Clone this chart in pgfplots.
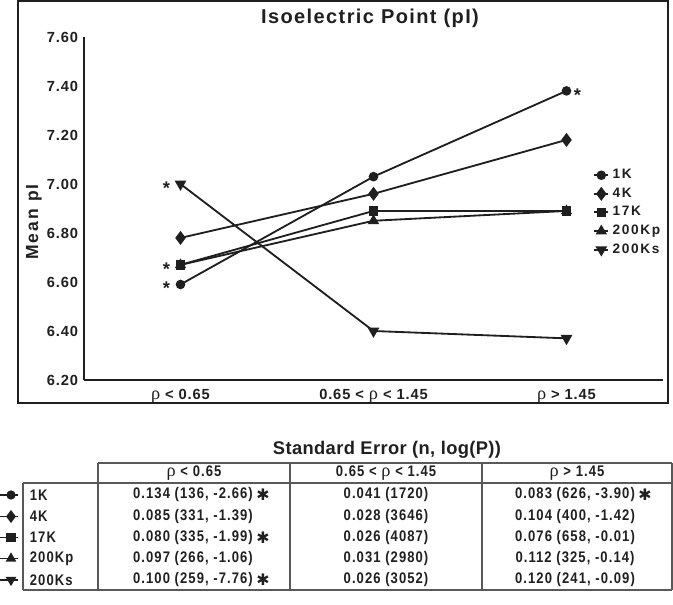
\documentclass[border=0pt]{standalone}
\usepackage{pgfplots}
\pgfplotsset{compat=1.18}
\usepackage{fontspec}
\setmainfont{Liberation Sans}
\newfontfamily\lsA[LetterSpace=6]{Liberation Sans}
\newfontfamily\lsT[LetterSpace=7]{Liberation Sans}
\newfontfamily\lsB[LetterSpace=12]{Liberation Sans}
\newfontfamily\lsY[LetterSpace=12]{Liberation Sans}
\newfontfamily\lsC[LetterSpace=2]{Liberation Sans}
\newfontfamily\tabf[FakeStretch=0.85,LetterSpace=7]{Liberation Sans}
\newfontfamily\rhof{Liberation Serif}
\newfontfamily\dejavu{DejaVu Sans}
\colorlet{ink}{black!88}
\newcommand{\rh}{{\rhof\mdseries\fontsize{11}{11}\selectfont ρ}}

\begin{document}
\begin{tikzpicture}
\useasboundingbox (0pt,0pt) rectangle (403.8pt,362.4pt);

% main chart
\begin{axis}[
  at={(50.4pt,134.4pt)}, anchor=south west,
  scale only axis, width=347.4pt, height=205.8pt,
  axis x line=bottom, axis y line=left,
  axis line style={line width=1.3pt,ink,-},
  xmin=-0.5, xmax=2.5, ymin=6.2, ymax=7.6,
  xtick={0,1,2},
  xticklabels={{\rh{} < 0.65},{0.65 < \rh{} < 1.45},{\rh{} > 1.45}},
  ytick={6.2,6.4,6.6,6.8,7.0,7.2,7.4,7.6},
  major tick length=0pt,
  /pgf/number format/fixed,
  /pgf/number format/fixed zerofill,
  /pgf/number format/precision=2,
  /pgf/number format/assume math mode=true,
  ticklabel style={font=\fontsize{8.8}{9}\selectfont\lsA\bfseries, text=ink},
  xticklabel style={yshift=-2pt},
  clip=false,
  legend cell align=left,
  legend style={draw=none, fill=none, at={(0.879,0.625)}, anchor=north west,
    inner sep=0pt, row sep=0pt,
    font=\fontsize{8.2}{8.5}\selectfont\lsB\bfseries, text=ink},
  legend image code/.code={\draw[mark repeat=2,mark phase=2,#1] plot coordinates {(0cm,0cm) (0.15cm,0cm) (0.3cm,0cm)};},
]
\addplot[line width=1.1pt, ink, mark=*, mark size=2.3pt] coordinates {(0,6.59)(1,7.03)(2,7.38)};
\addlegendentry{1K}
\addplot[line width=1.1pt, ink, mark=diamond*, mark size=3.3pt] coordinates {(0,6.78)(1,6.96)(2,7.18)};
\addlegendentry{4K}
\addlegendimage{line width=1.1pt, ink, mark=square*, mark size=2.2pt}
\addlegendentry{17K}
\addplot[line width=1.1pt, ink, mark=triangle*, mark size=2.8pt] coordinates {(0,6.67)(1,6.85)(2,6.89)};
\addlegendentry{200Kp}
\addplot[line width=1.1pt, ink, mark=triangle*, mark size=3pt, mark options={rotate=180}] coordinates {(0,7.00)(1,6.40)(2,6.37)};
\addlegendentry{200Ks}
\addplot[line width=1.1pt, ink, mark=square*, mark size=2.3pt, forget plot] coordinates {(0,6.67)(1,6.89)(2,6.89)};

\node[text=ink, font=\fontsize{11}{11}\selectfont\bfseries, xshift=-8.4pt, yshift=-2.5pt] at (axis cs:0,7.00) {*};
\node[text=ink, font=\fontsize{11}{11}\selectfont\bfseries, xshift=-8.4pt, yshift=-2.5pt] at (axis cs:0,6.67) {*};
\node[text=ink, font=\fontsize{11}{11}\selectfont\bfseries, xshift=-8.4pt, yshift=-2.5pt] at (axis cs:0,6.59) {*};
\node[text=ink, font=\fontsize{11}{11}\selectfont\bfseries, xshift=6.6pt, yshift=-2.5pt] at (axis cs:2,7.38) {*};
\end{axis}

% frame, titles and the table, in picture pixels
\begin{axis}[
  at={(0pt,0pt)}, anchor=south west,
  scale only axis, width=403.8pt, height=362.4pt,
  xmin=0, xmax=673, ymin=0, ymax=604, y dir=reverse,
  hide axis, clip=false,
]
\draw[line width=1.3pt, ink] (axis cs:18,1) rectangle (axis cs:668,403);
\node[font=\fontsize{12}{12}\selectfont\lsT\bfseries, text=ink] at (axis cs:370,18) {Isoelectric Point (pI)};
\node[rotate=90, font=\fontsize{10.5}{10.5}\selectfont\lsY\bfseries, text=ink] at (axis cs:34,222) {Mean pI};

\node[font=\fontsize{11}{11}\selectfont\lsC\bfseries, text=ink] at (axis cs:387,450) {Standard Error (n, log(P))};

\draw[line width=0.9pt, black!65] (axis cs:98,463) -- (axis cs:672,463);
\draw[line width=0.9pt, black!65] (axis cs:23,483) -- (axis cs:672,483);
\draw[line width=0.9pt, black!65] (axis cs:23,590) -- (axis cs:672,590);
\draw[line width=0.9pt, black!65] (axis cs:23,483) -- (axis cs:23,590);
\draw[line width=0.9pt, black!65] (axis cs:98,463) -- (axis cs:98,590);
\draw[line width=0.9pt, black!65] (axis cs:290,463) -- (axis cs:290,590);
\draw[line width=0.9pt, black!65] (axis cs:482,463) -- (axis cs:482,590);
\draw[line width=0.9pt, black!65] (axis cs:672,463) -- (axis cs:672,590);

\node[font=\fontsize{9.2}{9.5}\selectfont\tabf\bfseries, text=ink] at (axis cs:194,473) {\rh{} < 0.65};
\node[font=\fontsize{9.2}{9.5}\selectfont\tabf\bfseries, text=ink] at (axis cs:386,473) {0.65 < \rh{} < 1.45};
\node[font=\fontsize{9.2}{9.5}\selectfont\tabf\bfseries, text=ink] at (axis cs:577,473) {\rh{} > 1.45};

\node[font=\fontsize{9.2}{9.5}\selectfont\tabf\bfseries, text=ink, anchor=west] at (axis cs:24,495) {1K};
\node[font=\fontsize{9.2}{9.5}\selectfont\tabf\bfseries, text=ink, anchor=west] at (axis cs:24,516.5) {4K};
\node[font=\fontsize{9.2}{9.5}\selectfont\tabf\bfseries, text=ink, anchor=west] at (axis cs:24,537.5) {17K};
\node[font=\fontsize{9.2}{9.5}\selectfont\tabf\bfseries, text=ink, anchor=west] at (axis cs:24,558.5) {200Kp};
\node[font=\fontsize{9.2}{9.5}\selectfont\tabf\bfseries, text=ink, anchor=west] at (axis cs:24,580) {200Ks};

\node[font=\fontsize{9.2}{9.5}\selectfont\tabf\bfseries, text=ink] at (axis cs:193,495) {0.134 (136, -2.66)};
\node[font=\fontsize{9.2}{9.5}\selectfont\tabf\bfseries, text=ink] at (axis cs:193,516.5) {0.085 (331, -1.39)};
\node[font=\fontsize{9.2}{9.5}\selectfont\tabf\bfseries, text=ink] at (axis cs:193,537.5) {0.080 (335, -1.99)};
\node[font=\fontsize{9.2}{9.5}\selectfont\tabf\bfseries, text=ink] at (axis cs:193,558.5) {0.097 (266, -1.06)};
\node[font=\fontsize{9.2}{9.5}\selectfont\tabf\bfseries, text=ink] at (axis cs:193,580) {0.100 (259, -7.76)};

\node[font=\fontsize{9.2}{9.5}\selectfont\tabf\bfseries, text=ink] at (axis cs:386,495) {0.041 (1720)};
\node[font=\fontsize{9.2}{9.5}\selectfont\tabf\bfseries, text=ink] at (axis cs:386,516.5) {0.028 (3646)};
\node[font=\fontsize{9.2}{9.5}\selectfont\tabf\bfseries, text=ink] at (axis cs:386,537.5) {0.026 (4087)};
\node[font=\fontsize{9.2}{9.5}\selectfont\tabf\bfseries, text=ink] at (axis cs:386,558.5) {0.031 (2980)};
\node[font=\fontsize{9.2}{9.5}\selectfont\tabf\bfseries, text=ink] at (axis cs:386,580) {0.026 (3052)};

\node[font=\fontsize{9.2}{9.5}\selectfont\tabf\bfseries, text=ink] at (axis cs:575,495) {0.083 (626, -3.90)};
\node[font=\fontsize{9.2}{9.5}\selectfont\tabf\bfseries, text=ink] at (axis cs:575,516.5) {0.104 (400, -1.42)};
\node[font=\fontsize{9.2}{9.5}\selectfont\tabf\bfseries, text=ink] at (axis cs:575,537.5) {0.076 (658, -0.01)};
\node[font=\fontsize{9.2}{9.5}\selectfont\tabf\bfseries, text=ink] at (axis cs:575,558.5) {0.112 (325, -0.14)};
\node[font=\fontsize{9.2}{9.5}\selectfont\tabf\bfseries, text=ink] at (axis cs:575,580) {0.120 (241, -0.09)};

\node[font=\fontsize{9.5}{9.5}\selectfont\dejavu, text=ink] at (axis cs:263,495) {✱};
\node[font=\fontsize{9.5}{9.5}\selectfont\dejavu, text=ink] at (axis cs:263,537.5) {✱};
\node[font=\fontsize{9.5}{9.5}\selectfont\dejavu, text=ink] at (axis cs:263,580) {✱};
\node[font=\fontsize{9.5}{9.5}\selectfont\dejavu, text=ink] at (axis cs:645,495) {✱};

\addplot[line width=1.1pt, ink, mark=*, mark size=2.2pt, mark indices={2}] coordinates {(0,495)(11,495)(18,495)};
\addplot[line width=1.1pt, ink, mark=diamond*, mark size=3pt, mark indices={2}] coordinates {(0,516.5)(11,516.5)(18,516.5)};
\addplot[line width=1.1pt, ink, mark=square*, mark size=2.2pt, mark indices={2}] coordinates {(0,537.5)(11,537.5)(18,537.5)};
\addplot[line width=1.1pt, ink, mark=triangle*, mark size=2.6pt, mark indices={2}] coordinates {(0,558.5)(11,558.5)(18,558.5)};
\addplot[line width=1.1pt, ink, mark=triangle*, mark size=2.6pt, mark indices={2}, mark options={rotate=180}] coordinates {(0,580)(11,580)(18,580)};
\end{axis}
\end{tikzpicture}
\end{document}
